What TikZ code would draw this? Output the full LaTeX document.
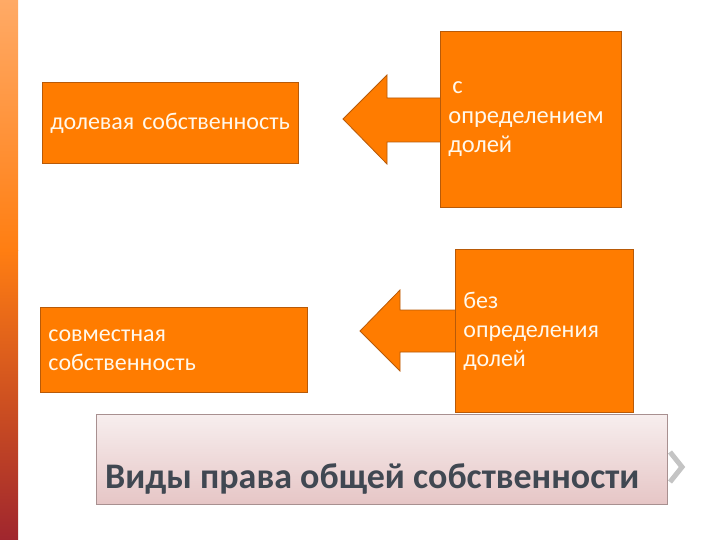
\documentclass[tikz,border=0pt]{standalone}
\usepackage{fontspec}
\setmainfont{Carlito}
\definecolor{orng}{HTML}{FF7C00}
\definecolor{orngedge}{HTML}{B85A08}
\definecolor{bartop}{HTML}{FFAA66}
\definecolor{barmid}{HTML}{FF7E12}
\definecolor{barbot}{HTML}{A0262E}
\definecolor{titletop}{HTML}{F7EEEE}
\definecolor{titlebot}{HTML}{E6C6C6}
\definecolor{titleedge}{HTML}{A89090}
\definecolor{titletext}{HTML}{404852}
\definecolor{chev}{HTML}{C4C4C4}
\definecolor{boxtext}{HTML}{FFF8EC}
\tikzset{
  obox/.style={draw=orngedge, line width=0.8pt, fill=orng, anchor=north west,
    align=left, inner xsep=8pt, inner ysep=0pt, text=boxtext},
  blockarrow/.style={draw=orngedge, line width=0.8pt, fill=orng, line join=miter},
}
\begin{document}
\begin{tikzpicture}[x=1pt,y=-1pt]
\useasboundingbox (0,0) rectangle (720,540);
\fill[white] (0,0) rectangle (720,540);
% left bar
\shade[top color=bartop, bottom color=barmid] (0,0) rectangle (18,250);
\shade[top color=barmid, bottom color=barbot] (0,250) rectangle (18,540);
% arrows (drawn under boxes)
\draw[blockarrow] (445,98) -- (387,98) -- (387,75) -- (343,119) -- (387,164) -- (387,142) -- (445,142);
\draw[blockarrow] (460,310) -- (400,310) -- (400,290) -- (360,331) -- (400,371) -- (400,352) -- (460,352);
% boxes
\node[obox, minimum width=256pt, minimum height=81pt, text width=240pt,
  font=\fontsize{24}{29}\selectfont] (dolevaya) at (42,82) {долевая собственность};
\node[obox, minimum width=181pt, minimum height=176pt, text width=165pt,
  font=\fontsize{24.5}{29.5}\selectfont] (sopred) at (440,31) {\,с\\определением\\долей};
\node[obox, minimum width=267pt, minimum height=85pt, text width=251pt,
  font=\fontsize{24}{29}\selectfont] (sovm) at (40,307) {совместная\\собственность};
\node[obox, minimum width=178pt, minimum height=163pt, text width=162pt,
  font=\fontsize{24}{29}\selectfont] (bezopred) at (455,249) {без\\определения\\долей};
% title
\shade[top color=titletop, bottom color=titlebot, draw=titleedge, line width=0.8pt] (96,414) rectangle (667,504);
\node[anchor=base west, inner sep=0pt, text=titletext, font=\fontsize{36}{40}\selectfont\bfseries] (title) at (105,488) {Виды права общей собственности};
\coordinate (ch1) at (670,452);
\coordinate (ch2) at (682,467);
\coordinate (ch3) at (670,482);
\draw[chev, line width=5pt, line join=miter] (ch1) -- (ch2) -- (ch3);
\end{tikzpicture}
\end{document}
